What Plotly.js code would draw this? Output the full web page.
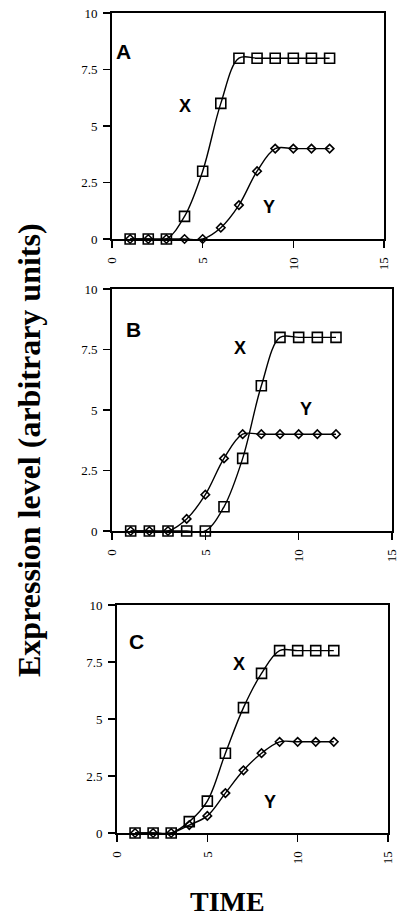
<!DOCTYPE html>
<html>
<head>
<meta charset="utf-8">
<script src="https://cdn.plot.ly/plotly-3.0.1.min.js"></script>
<style>html,body{margin:0;padding:0;background:#fff;}#chart{width:402px;height:923px;}</style>
</head>
<body>
<div id="chart"></div>
<script>
// ---- data ----
var time = [1, 2, 3, 4, 5, 6, 7, 8, 9, 10, 11, 12];
var panelA_X = [0, 0, 0, 1, 3, 6, 8, 8, 8, 8, 8, 8];
var panelA_Y = [0, 0, 0, 0, 0, 0.5, 1.5, 3, 4, 4, 4, 4];
var panelB_X = [0, 0, 0, 0, 0, 1, 3, 6, 8, 8, 8, 8];
var panelB_Y = [0, 0, 0, 0.5, 1.5, 3, 4, 4, 4, 4, 4, 4];
var panelC_X = [0, 0, 0, 0.5, 1.4, 3.5, 5.5, 7, 8, 8, 8, 8];
var panelC_Y = [0, 0, 0, 0.35, 0.75, 1.75, 2.75, 3.5, 4, 4, 4, 4];
var xTickVals = [0, 5, 10, 15];
var yTickVals = [0, 2.5, 5, 7.5, 10];
var yTickText = ['0', '2.5', '5', '7.5', '10'];
var panelLetters = ['A', 'B', 'C'];
var yTitle = 'Expression level (arbitrary units)';
var xTitle = 'TIME';

var W = 402, H = 923;
function px2x(p) { return p / W; }
function py2y(p) { return 1 - p / H; }

// panel boxes in pixels [left, right, top, bottom]
var boxes = [[112, 384, 13, 239], [112, 392, 289, 531], [117, 388, 605, 833]];

function seriesTrace(y, sym, size, k) {
  var ax = k === 0 ? '' : String(k + 1);
  return {
    x: time, y: y, xaxis: 'x' + ax, yaxis: 'y' + ax,
    type: 'scatter', mode: 'lines+markers', cliponaxis: false,
    line: {color: '#000', width: 1.4, shape: 'spline', smoothing: 1},
    marker: {symbol: sym, size: size, color: '#000', line: {color: '#000', width: 1.6}},
    hoverinfo: 'skip'
  };
}

var series = [[panelA_X, panelA_Y], [panelB_X, panelB_Y], [panelC_X, panelC_Y]];
var data = [];
series.forEach(function (s, k) {
  data.push(seriesTrace(s[1], 'diamond-open', 6.5, k));
  data.push(seriesTrace(s[0], 'square-open', 10, k));
});

var layout = {
  width: W, height: H,
  margin: {l: 0, r: 0, t: 0, b: 0},
  paper_bgcolor: '#fff', plot_bgcolor: '#fff',
  showlegend: false,
  font: {family: 'Liberation Serif, Times New Roman, serif', color: '#000'},
  annotations: []
};

function axisBase() {
  return {
    showline: true, mirror: true, linecolor: '#000', linewidth: 2,
    showgrid: false, zeroline: false,
    ticks: 'outside', ticklen: 7, tickwidth: 1.6, tickcolor: '#000',
    tickfont: {family: 'Liberation Serif, Times New Roman, serif', size: 13, color: '#000'},
    fixedrange: true
  };
}

// label positions in data coords for each panel: [letter, X, Y]
var labelPos = [
  [[0.66, 8.3], [4.05, 5.9], [8.66, 1.4]],
  [[1.13, 8.34], [6.84, 7.56], [10.4, 5.03]],
  [[1.07, 8.38], [6.75, 7.43], [8.49, 1.34]]
];

boxes.forEach(function (b, k) {
  var ax = k === 0 ? '' : String(k + 1);
  var xa = axisBase();
  xa.domain = [px2x(b[0]), px2x(b[1])];
  xa.range = [0, 15];
  xa.tickvals = xTickVals;
  xa.tickangle = -90;
  xa.anchor = 'y' + ax;
  xa.ticklabelstandoff = 4;
  var ya = axisBase();
  ya.domain = [py2y(b[3]), py2y(b[2])];
  ya.range = [0, 10];
  ya.tickvals = yTickVals;
  ya.ticktext = yTickText;
  ya.anchor = 'x' + ax;
  ya.ticklabelstandoff = 3;
  layout['xaxis' + ax] = xa;
  layout['yaxis' + ax] = ya;
  var lp = labelPos[k];
  layout.annotations.push({xref: 'x' + ax, yref: 'y' + ax, x: lp[0][0], y: lp[0][1], text: '<b>' + panelLetters[k] + '</b>', showarrow: false, font: {family: 'Liberation Sans, Arial, sans-serif', size: 21, color: '#000'}});
  layout.annotations.push({xref: 'x' + ax, yref: 'y' + ax, x: lp[1][0], y: lp[1][1], text: '<b>X</b>', showarrow: false, font: {family: 'Liberation Sans, Arial, sans-serif', size: 18, color: '#000'}});
  layout.annotations.push({xref: 'x' + ax, yref: 'y' + ax, x: lp[2][0], y: lp[2][1], text: '<b>Y</b>', showarrow: false, font: {family: 'Liberation Sans, Arial, sans-serif', size: 18, color: '#000'}});
});

layout.annotations.push({xref: 'paper', yref: 'paper', x: px2x(29), y: py2y(450), xanchor: 'center', yanchor: 'middle', textangle: -90, text: '<b>' + yTitle + '</b>', showarrow: false, font: {family: 'Liberation Serif, Times New Roman, serif', size: 32, color: '#000'}});
layout.annotations.push({xref: 'paper', yref: 'paper', x: px2x(227), y: py2y(901), xanchor: 'center', yanchor: 'middle', text: '<b>' + xTitle + '</b>', showarrow: false, font: {family: 'Liberation Serif, Times New Roman, serif', size: 28, color: '#000'}});

Plotly.newPlot('chart', data, layout, {displayModeBar: false, staticPlot: true});
</script>
</body>
</html>
